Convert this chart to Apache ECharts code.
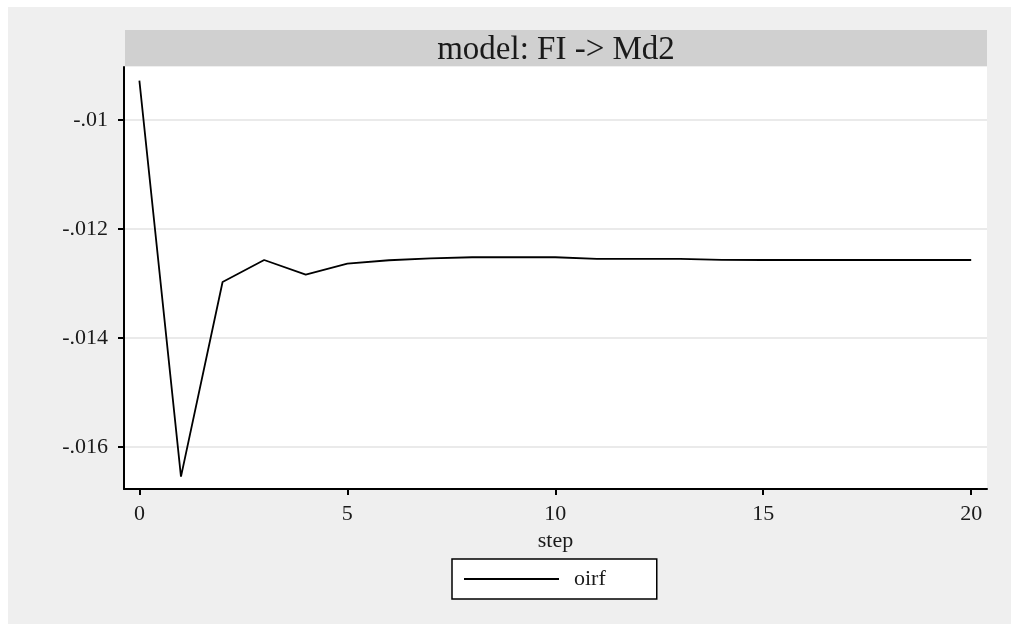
<!DOCTYPE html>
<html>
<head>
<meta charset="UTF-8">
<title>model: FI -> Md2</title>
<style type="text/css">
html, body {
	margin: 0;
	padding: 0;
	background: #ffffff;
}
#main {
	position: absolute;
	left: 8px;
	top: 7px;
	width: 1003px;
	height: 617px;
}
</style>
</head>
<body>
	<div id="main"></div>
<script type="text/javascript" src="https://cdn.jsdelivr.net/npm/echarts@6/dist/echarts.min.js"></script>
<script type="text/javascript">
	// 数据
	var steps = [0, 1, 2, 3, 4, 5, 6, 7, 8, 9, 10, 11, 12, 13, 14, 15, 16, 17, 18, 19, 20];
	var oirf = [-0.009279, -0.016545, -0.012972, -0.012569, -0.012839, -0.012637,
		-0.012574, -0.012538, -0.012519, -0.012519, -0.012519, -0.012550,
		-0.012550, -0.012550, -0.012566, -0.012569, -0.012569, -0.012569,
		-0.012569, -0.012569, -0.012569];
	var xTicks = [0, 5, 10, 15, 20];
	var yTicks = [-0.016, -0.014, -0.012, -0.01];
	var titleText = 'model: FI -> Md2';

	var font = '"Liberation Serif", "DejaVu Serif", serif';

	var lineData = [];
	for (var i in steps) {
		lineData.push([steps[i], oirf[i]]);
	}

	function fmtY(v) {
		// Stata 风格: -.012
		return String(+v.toFixed(4)).replace('0.', '.');
	}

	var chart = echarts.init(document.getElementById('main'));
	var option = {
		backgroundColor: '#efefef',
		animation: false,
		graphic: [{
			type: 'rect',
			left: 117,
			top: 23,
			shape: { width: 862, height: 36 },
			style: { fill: '#d0d0d0' },
			z: 0
		}, {
			type: 'text',
			x: 548,
			y: 43,
			style: {
				text: titleText,
				font: '33px ' + font,
				fill: '#1a1a1a',
				align: 'center',
				verticalAlign: 'middle'
			},
			z: 1
		}],
		grid: {
			left: 116,
			right: 24,
			top: 60,
			bottom: 135,
			show: true,
			backgroundColor: '#ffffff',
			borderWidth: 0
		},
		legend: {
			left: 444,
			top: 552,
			data: ['oirf'],
			icon: 'rect',
			itemWidth: 95,
			itemHeight: 2,
			itemGap: 10,
			padding: [9, 51, 9, 12],
			backgroundColor: '#ffffff',
			borderColor: '#000000',
			borderWidth: 1.5,
			borderRadius: 0,
			textStyle: {
				fontFamily: font,
				fontSize: 22,
				color: '#1a1a1a',
				padding: [0, 0, 0, 10]
			}
		},
		xAxis: {
			type: 'value',
			min: -0.37,
			max: 20.38,
			name: 'step',
			nameLocation: 'middle',
			nameGap: 38,
			nameTextStyle: {
				fontFamily: font,
				fontSize: 22,
				color: '#1a1a1a'
			},
			axisLine: { onZero: false, lineStyle: { color: '#000', width: 2 } },
			axisTick: {
				show: true,
				length: 6,
				lineStyle: { color: '#000', width: 2 },
				customValues: xTicks
			},
			axisLabel: {
				customValues: xTicks,
				fontFamily: font,
				fontSize: 22,
				color: '#1a1a1a',
				margin: 14
			},
			splitLine: { show: false }
		},
		yAxis: {
			type: 'value',
			min: -0.016771,
			max: -0.009028,
			axisLine: { show: true, onZero: false, lineStyle: { color: '#000', width: 2 } },
			axisTick: {
				show: true,
				length: 6,
				lineStyle: { color: '#000', width: 2 },
				customValues: yTicks
			},
			axisLabel: {
				customValues: yTicks,
				fontFamily: font,
				fontSize: 22,
				color: '#1a1a1a',
				margin: 16,
				formatter: fmtY
			},
			splitLine: {
				show: true,
				customValues: yTicks,
				lineStyle: { color: '#eaeaea', width: 2 }
			}
		},
		series: [{
			name: 'oirf',
			type: 'line',
			data: lineData,
			showSymbol: false,
			symbol: 'none',
			lineStyle: { color: '#000000', width: 1.8 },
			itemStyle: { color: '#000000' }
		}]
	};
	chart.setOption(option);
</script>
</body>
</html>
